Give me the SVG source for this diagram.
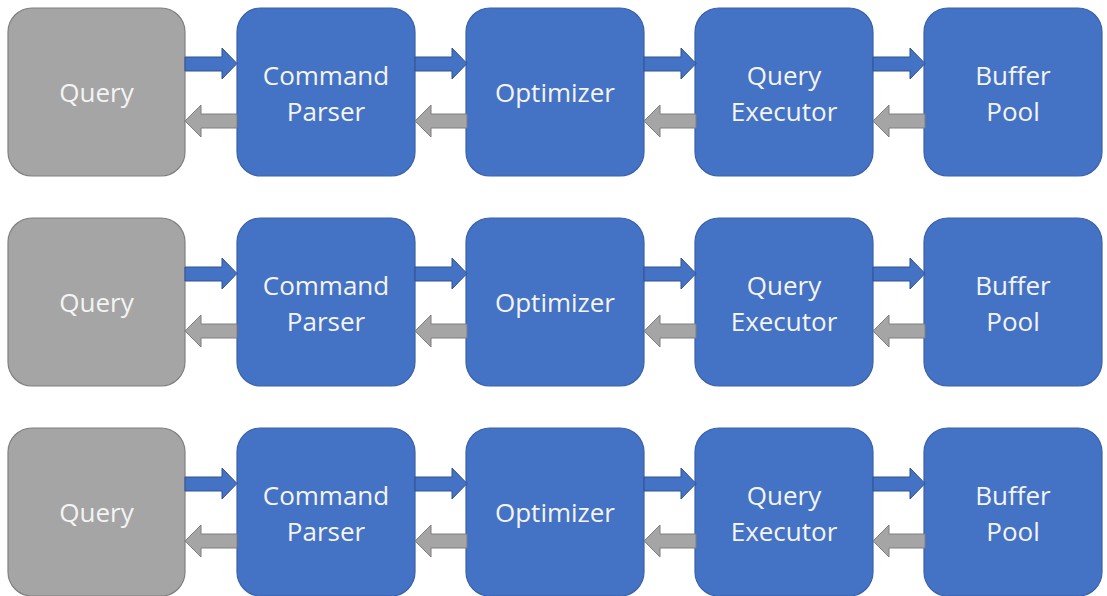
<svg xmlns="http://www.w3.org/2000/svg" xmlns:xlink="http://www.w3.org/1999/xlink" width="1107" height="596" viewBox="0 0 1107 596">
  <style>
    .box { stroke-width: 1.2; }
    .blue { fill: #4472C4; stroke: #3A62AA; }
    .gray { fill: #A5A5A5; stroke: #808080; }
    .label { font-family: "Open Sans", "Noto Sans", "Liberation Sans", sans-serif; font-size: 26px; fill: #F4F4F4; text-anchor: middle; }
    .fwd { fill: #4472C4; stroke: #2F528F; stroke-width: 1; }
    .back { fill: #A5A5A5; stroke: #7F7F7F; stroke-width: 1; }
  </style>
  <defs>
    <!-- arrow shapes spanning a 52px gap between two boxes -->
    <path id="arrowRight" d="M0,57 H37 V48 L52,63.5 L37,79 V71 H0 Z"/>
    <path id="arrowLeft" d="M52,114 H16 V105 L0,121 L16,137 V128 H52 Z"/>
  </defs>

  <rect width="1107" height="596" fill="#FFFFFF"/>

  <!-- row 1 -->
  <g id="row1">
    <g id="query1"><rect class="box gray" x="8" y="8" width="177" height="168" rx="24"/><text class="label" x="96.5" y="102">Query</text></g>
    <g id="parser1"><rect class="box blue" x="237" y="8" width="178" height="168" rx="24"/><text class="label" x="326" y="85">Command</text><text class="label" x="326" y="121">Parser</text></g>
    <g id="optimizer1"><rect class="box blue" x="466" y="8" width="178" height="168" rx="24"/><text class="label" x="555" y="102">Optimizer</text></g>
    <g id="executor1"><rect class="box blue" x="695" y="8" width="178" height="168" rx="24"/><text class="label" x="784" y="85">Query</text><text class="label" x="784" y="121">Executor</text></g>
    <g id="buffer1"><rect class="box blue" x="924" y="8" width="178" height="168" rx="24"/><text class="label" x="1013" y="85">Buffer</text><text class="label" x="1013" y="121">Pool</text></g>
  </g>

  <!-- row 2 -->
  <g id="row2" transform="translate(0,210)">
    <g id="query2"><rect class="box gray" x="8" y="8" width="177" height="168" rx="24"/><text class="label" x="96.5" y="102">Query</text></g>
    <g id="parser2"><rect class="box blue" x="237" y="8" width="178" height="168" rx="24"/><text class="label" x="326" y="85">Command</text><text class="label" x="326" y="121">Parser</text></g>
    <g id="optimizer2"><rect class="box blue" x="466" y="8" width="178" height="168" rx="24"/><text class="label" x="555" y="102">Optimizer</text></g>
    <g id="executor2"><rect class="box blue" x="695" y="8" width="178" height="168" rx="24"/><text class="label" x="784" y="85">Query</text><text class="label" x="784" y="121">Executor</text></g>
    <g id="buffer2"><rect class="box blue" x="924" y="8" width="178" height="168" rx="24"/><text class="label" x="1013" y="85">Buffer</text><text class="label" x="1013" y="121">Pool</text></g>
  </g>

  <!-- row 3 -->
  <g id="row3" transform="translate(0,420)">
    <g id="query3"><rect class="box gray" x="8" y="8" width="177" height="168" rx="24"/><text class="label" x="96.5" y="102">Query</text></g>
    <g id="parser3"><rect class="box blue" x="237" y="8" width="178" height="168" rx="24"/><text class="label" x="326" y="85">Command</text><text class="label" x="326" y="121">Parser</text></g>
    <g id="optimizer3"><rect class="box blue" x="466" y="8" width="178" height="168" rx="24"/><text class="label" x="555" y="102">Optimizer</text></g>
    <g id="executor3"><rect class="box blue" x="695" y="8" width="178" height="168" rx="24"/><text class="label" x="784" y="85">Query</text><text class="label" x="784" y="121">Executor</text></g>
    <g id="buffer3"><rect class="box blue" x="924" y="8" width="178" height="168" rx="24"/><text class="label" x="1013" y="85">Buffer</text><text class="label" x="1013" y="121">Pool</text></g>
  </g>

  <!-- connectors: forward (blue) and return (gray) arrows between stages -->
  <g id="connectors">
    <g>
      <use xlink:href="#arrowRight" class="fwd" x="185" y="0"/><use xlink:href="#arrowLeft" class="back" x="185" y="0"/>
      <use xlink:href="#arrowRight" class="fwd" x="415" y="0"/><use xlink:href="#arrowLeft" class="back" x="415" y="0"/>
      <use xlink:href="#arrowRight" class="fwd" x="644" y="0"/><use xlink:href="#arrowLeft" class="back" x="644" y="0"/>
      <use xlink:href="#arrowRight" class="fwd" x="873" y="0"/><use xlink:href="#arrowLeft" class="back" x="873" y="0"/>
    </g>
    <g transform="translate(0,210)">
      <use xlink:href="#arrowRight" class="fwd" x="185" y="0"/><use xlink:href="#arrowLeft" class="back" x="185" y="0"/>
      <use xlink:href="#arrowRight" class="fwd" x="415" y="0"/><use xlink:href="#arrowLeft" class="back" x="415" y="0"/>
      <use xlink:href="#arrowRight" class="fwd" x="644" y="0"/><use xlink:href="#arrowLeft" class="back" x="644" y="0"/>
      <use xlink:href="#arrowRight" class="fwd" x="873" y="0"/><use xlink:href="#arrowLeft" class="back" x="873" y="0"/>
    </g>
    <g transform="translate(0,420)">
      <use xlink:href="#arrowRight" class="fwd" x="185" y="0"/><use xlink:href="#arrowLeft" class="back" x="185" y="0"/>
      <use xlink:href="#arrowRight" class="fwd" x="415" y="0"/><use xlink:href="#arrowLeft" class="back" x="415" y="0"/>
      <use xlink:href="#arrowRight" class="fwd" x="644" y="0"/><use xlink:href="#arrowLeft" class="back" x="644" y="0"/>
      <use xlink:href="#arrowRight" class="fwd" x="873" y="0"/><use xlink:href="#arrowLeft" class="back" x="873" y="0"/>
    </g>
  </g>
</svg>
